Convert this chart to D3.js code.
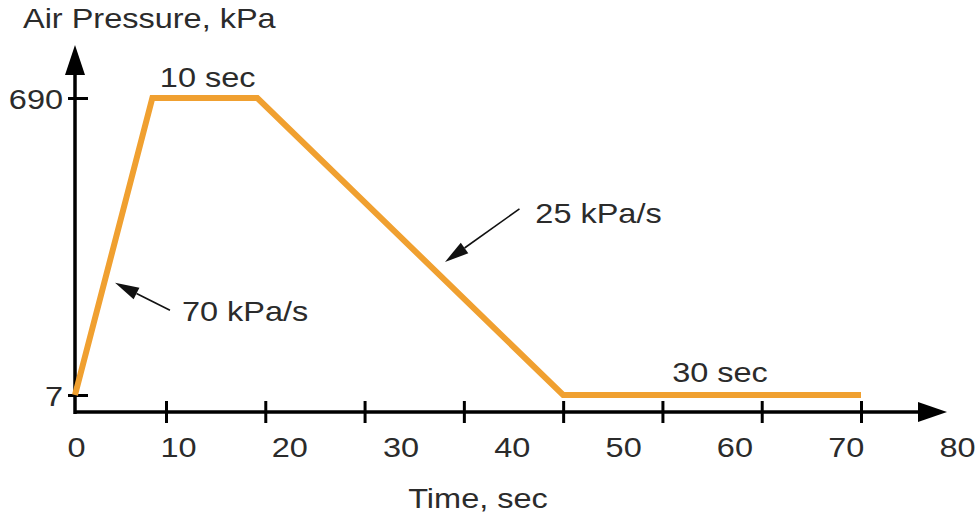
<!DOCTYPE html>
<html>
<head>
<meta charset="utf-8">
<script src="https://cdn.jsdelivr.net/npm/d3@7"></script>
<style>
  body { margin: 0; background: #fff; }
  text { font-family: "Liberation Sans", Arial, sans-serif; fill: #2b2b2b; }
</style>
</head>
<body>
<div id="chart"></div>
<script>
// profile of the pressure cycle
var timeVals = [0, 8.5, 19.2, 50, 80];
var pressureVals = [7, 690, 690, 7, 7];

// axis ticks and labels
var xTickVals = [10, 20, 30, 40, 50, 60, 70, 80];
var xLabelVals = [0, 10, 20, 30, 40, 50, 60, 70, 80];
var xLabels = ["0", "10", "20", "30", "40", "50", "60", "70", "80"];
var yTickVals = [7, 690];
var yLabels = ["7", "690"];

// notes, in data units
var noteText = ["10 sec", "30 sec", "70 kPa/s", "25 kPa/s"];
var noteX = [14.2, 65.8, 11.6, 47.2];
var noteY = [715, 37, 177, 403];
var noteAnchor = ["middle", "middle", "start", "start"];

// pointer arrows: from (x,y) to tip (x,y)
var arrowFrom = [[10.4, 202], [45.6, 435]];
var arrowTo = [[4.4, 265], [38.1, 313]];

var w = 979, h = 517;
var stretch = 1.16;   // the source text is wide
var orange = "#f0a030";

var svg = d3.select("#chart").append("svg")
    .attr("width", w)
    .attr("height", h);

// ticks are not evenly spaced at the start, the labels sit on their own spacing
var x = d3.scaleLinear().domain([0, 10, 80]).range([75, 166, 861]);
var xLab = d3.scaleLinear().domain([0, 10, 80]).range([76, 178, 957]);
var y = d3.scaleLinear().domain([7, 690]).range([395, 98]);

var axisY0 = 412;

// x axis line + arrow
svg.append("line")
    .attr("x1", x(0)).attr("x2", 922)
    .attr("y1", axisY0).attr("y2", axisY0)
    .attr("stroke", "#000").attr("stroke-width", 3.5);
svg.append("path")
    .attr("d", "M947," + axisY0 + "L918," + (axisY0 - 10) + "L918," + (axisY0 + 10) + "Z")
    .attr("fill", "#000");

// y axis line + arrow
svg.append("line")
    .attr("x1", x(0)).attr("x2", x(0))
    .attr("y1", axisY0 + 2).attr("y2", 72)
    .attr("stroke", "#000").attr("stroke-width", 3.5);
svg.append("path")
    .attr("d", "M" + x(0) + ",45L" + (x(0) - 10) + ",75L" + (x(0) + 10) + ",75Z")
    .attr("fill", "#000");

// x ticks
var gx = svg.append("g")
    .attr("transform", "translate(0," + axisY0 + ")")
    .call(d3.axisBottom(x).tickValues(xTickVals).tickFormat(""));
gx.select(".domain").remove();
gx.selectAll(".tick line")
    .attr("y1", -11).attr("y2", 11)
    .attr("stroke", "#000").attr("stroke-width", 3);

// x labels
var gxl = svg.append("g")
    .attr("transform", "translate(0,457)")
    .call(d3.axisBottom(xLab).tickValues(xLabelVals).tickSize(0)
        .tickFormat(function(d, i) { return xLabels[i]; }));
gxl.select(".domain").remove();
gxl.selectAll(".tick text")
    .attr("y", 0).attr("dy", 0)
    .attr("font-size", 28)
    .attr("fill", "#2b2b2b")
    .attr("font-family", "Liberation Sans, Arial, sans-serif")
    .attr("transform", "scale(" + stretch + ",1)");

// y ticks + labels
var gy = svg.append("g")
    .attr("transform", "translate(" + x(0) + ",0)")
    .call(d3.axisLeft(y).tickValues(yTickVals).tickSize(0)
        .tickFormat(function(d, i) { return yLabels[i]; }));
gy.select(".domain").remove();
gy.selectAll(".tick line")
    .attr("x1", -7).attr("x2", 13)
    .attr("stroke", "#000").attr("stroke-width", 3);
gy.selectAll(".tick text")
    .attr("x", -12 / stretch).attr("dy", "0.36em")
    .attr("font-size", 28)
    .attr("fill", "#2b2b2b")
    .attr("font-family", "Liberation Sans, Arial, sans-serif")
    .attr("transform", "scale(" + stretch + ",1)");

// pressure profile
var line = d3.line()
    .x(function(d) { return x(d[0]); })
    .y(function(d) { return y(d[1]); });

svg.append("path")
    .datum(d3.zip(timeVals, pressureVals))
    .attr("d", line)
    .attr("fill", "none")
    .attr("stroke", orange)
    .attr("stroke-width", 6)
    .attr("stroke-linejoin", "miter");

// pointer arrows
arrowFrom.forEach(function(f, i) {
    var x1 = x(f[0]), y1 = y(f[1]);
    var x2 = x(arrowTo[i][0]), y2 = y(arrowTo[i][1]);
    var ang = Math.atan2(y2 - y1, x2 - x1);
    var len = 24, half = 6.5;
    var bx = x2 - len * Math.cos(ang), by = y2 - len * Math.sin(ang);
    svg.append("line")
        .attr("x1", x1).attr("y1", y1)
        .attr("x2", bx).attr("y2", by)
        .attr("stroke", "#111").attr("stroke-width", 1.6);
    svg.append("path")
        .attr("d", "M" + x2 + "," + y2 +
            "L" + (bx + half * Math.sin(ang)) + "," + (by - half * Math.cos(ang)) +
            "L" + (bx - half * Math.sin(ang)) + "," + (by + half * Math.cos(ang)) + "Z")
        .attr("fill", "#111");
});

// notes
noteText.forEach(function(t, i) {
    svg.append("text")
        .attr("transform", "translate(" + x(noteX[i]) + "," + y(noteY[i]) + ") scale(" + stretch + ",1)")
        .attr("text-anchor", noteAnchor[i])
        .attr("font-size", 28)
        .text(t);
});

// axis titles
svg.append("text")
    .attr("transform", "translate(23,28) scale(" + stretch + ",1)")
    .attr("font-size", 28)
    .text("Air Pressure, kPa");

svg.append("text")
    .attr("transform", "translate(478,508) scale(" + stretch + ",1)")
    .attr("text-anchor", "middle")
    .attr("font-size", 28)
    .text("Time, sec");
</script>
</body>
</html>
